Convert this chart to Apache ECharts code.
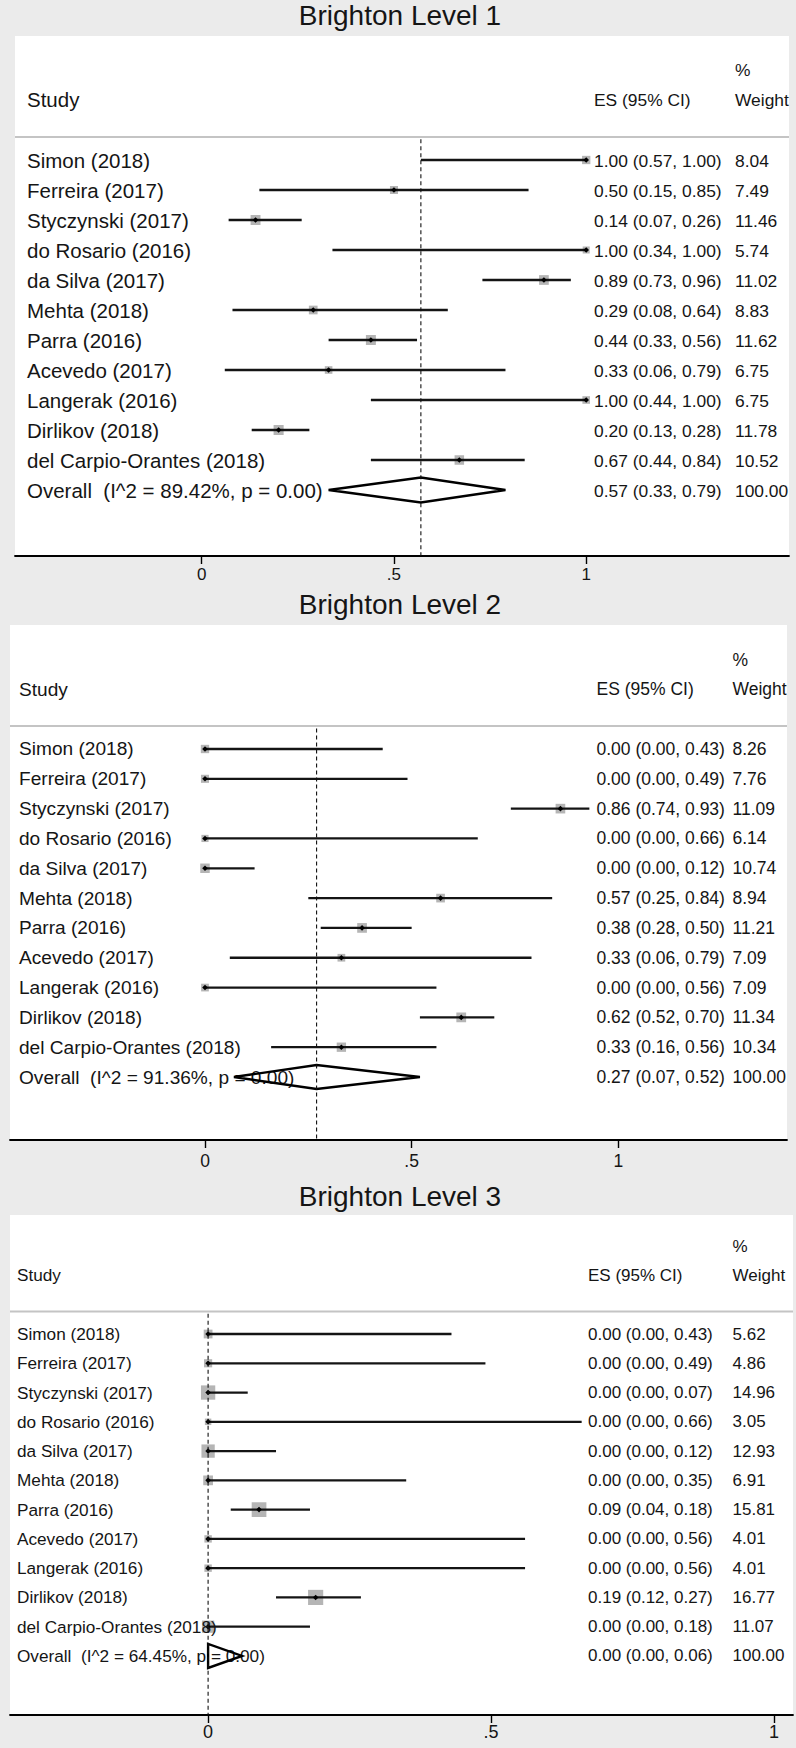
<!DOCTYPE html>
<html>
<head>
<meta charset="utf-8">
<script src="https://cdn.jsdelivr.net/npm/echarts@6.0.0/dist/echarts.min.js"></script>
<style>
html,body{margin:0;padding:0;background:#ebebeb;}
#chart{width:796px;height:1748px;}
</style>
</head>
<body>
<div id="chart"></div>
<script>
// ---------- DATA ----------
const panelTitles = ['Brighton Level 1', 'Brighton Level 2', 'Brighton Level 3'];
const headerLabels = ['Study', 'ES (95% CI)', '%', 'Weight'];
const studies = ['Simon (2018)', 'Ferreira (2017)', 'Styczynski (2017)', 'do Rosario (2016)', 'da Silva (2017)',
  'Mehta (2018)', 'Parra (2016)', 'Acevedo (2017)', 'Langerak (2016)', 'Dirlikov (2018)', 'del Carpio-Orantes (2018)'];

const es1 = [1.00, 0.50, 0.14, 1.00, 0.89, 0.29, 0.44, 0.33, 1.00, 0.20, 0.67];
const lo1 = [0.57, 0.15, 0.07, 0.34, 0.73, 0.08, 0.33, 0.06, 0.44, 0.13, 0.44];
const hi1 = [1.00, 0.85, 0.26, 1.00, 0.96, 0.64, 0.56, 0.79, 1.00, 0.28, 0.84];
const w1  = [8.04, 7.49, 11.46, 5.74, 11.02, 8.83, 11.62, 6.75, 6.75, 11.78, 10.52];

const es2 = [0.00, 0.00, 0.86, 0.00, 0.00, 0.57, 0.38, 0.33, 0.00, 0.62, 0.33];
const lo2 = [0.00, 0.00, 0.74, 0.00, 0.00, 0.25, 0.28, 0.06, 0.00, 0.52, 0.16];
const hi2 = [0.43, 0.49, 0.93, 0.66, 0.12, 0.84, 0.50, 0.79, 0.56, 0.70, 0.56];
const w2  = [8.26, 7.76, 11.09, 6.14, 10.74, 8.94, 11.21, 7.09, 7.09, 11.34, 10.34];

const es3 = [0.00, 0.00, 0.00, 0.00, 0.00, 0.00, 0.09, 0.00, 0.00, 0.19, 0.00];
const lo3 = [0.00, 0.00, 0.00, 0.00, 0.00, 0.00, 0.04, 0.00, 0.00, 0.12, 0.00];
const hi3 = [0.43, 0.49, 0.07, 0.66, 0.12, 0.35, 0.18, 0.56, 0.56, 0.27, 0.18];
const w3  = [5.62, 4.86, 14.96, 3.05, 12.93, 6.91, 15.81, 4.01, 4.01, 16.77, 11.07];

const overallEs = [0.57, 0.27, 0.00];
const overallLo = [0.33, 0.07, 0.00];
const overallHi = [0.79, 0.52, 0.06];
const overallW  = [100.00, 100.00, 100.00];
const overallI2 = [89.42, 91.36, 64.45];
const overallP  = [0.00, 0.00, 0.00];

const tickValues = [0, 0.5, 1];
const tickLabels = ['0', '.5', '1'];

// ---------- LAYOUT (pixels / styles only) ----------
const FONT = "'Liberation Sans', Arial, Helvetica, sans-serif";
const TXT = '#151515';
const layouts = [
  {grid:{left:15, top:36, width:774, height:520}, xMin:-0.4856, xMax:1.5274, yMin:-4.133, yMax:13.2,
   titleTop:1, studyX:27, esX:594, wX:735, studyFont:20.5, colFont:17.4, tickFont:17, k:2.93, dh:12.5, ty:0.8, lblMargin:10},
  {grid:{left:10, top:625, width:777, height:515}, xMin:-0.4718, xMax:1.4082, yMin:-4.158, yMax:13.112,
   titleTop:590, studyX:19, esX:596.5, wX:732.5, studyFont:19.1, colFont:17.5, tickFont:17.5, k:2.9, dh:12, ty:0, lblMargin:12},
  {grid:{left:10, top:1215, width:783, height:500}, xMin:-0.350, xMax:1.0334, yMin:-4.066, yMax:13.017,
   titleTop:1182, studyX:17, esX:588, wX:732.5, studyFont:17.2, colFont:17, tickFont:18, k:3.7, dh:12, ty:0, lblMargin:8}
];
const HEADER_LINE_ROW = -0.77;
const PCT_ROW = -3, HEAD_ROW = -2;

const panelData = [
  {es:es1, lo:lo1, hi:hi1, w:w1},
  {es:es2, lo:lo2, hi:hi2, w:w2},
  {es:es3, lo:lo3, hi:hi3, w:w3}
];

const f2 = v => v.toFixed(2);

function txt(text, x, y, size, align) {
  return {type:'text', style:{text:text, x:x, y:y, fill:TXT, fontSize:size, fontFamily:FONT,
    align:align || 'left', verticalAlign:'middle'}};
}

const option = {
  animation:false,
  backgroundColor:'#ebebeb',
  title: panelTitles.map((t, p) => ({
    text:t, left:400, top:layouts[p].titleTop, textAlign:'center', padding:0,
    textStyle:{fontSize:28, fontWeight:'normal', color:TXT, fontFamily:FONT}
  })),
  grid: layouts.map(L => Object.assign({show:true, backgroundColor:'#ffffff', borderWidth:0, containLabel:false}, L.grid)),
  xAxis: layouts.map((L, p) => ({
    type:'value', gridIndex:p, min:L.xMin, max:L.xMax,
    splitLine:{show:false},
    axisLine:{show:true, onZero:false, lineStyle:{color:'#000', width:1.8}},
    axisTick:{show:true, customValues:tickValues, length:8, inside:false, lineStyle:{color:'#000', width:1.4}},
    axisLabel:{show:true, customValues:tickValues, margin:L.lblMargin, color:TXT, fontSize:L.tickFont, fontFamily:FONT,
      formatter: v => { const i = tickValues.findIndex(t => Math.abs(t - v) < 1e-9); return i >= 0 ? tickLabels[i] : ''; }}
  })),
  yAxis: layouts.map((L, p) => ({
    type:'value', gridIndex:p, min:L.yMin, max:L.yMax, inverse:true, show:false, splitLine:{show:false}
  })),
  series: []
};

layouts.forEach((L, p) => {
  const D = panelData[p];
  // header
  option.series.push({
    type:'custom', xAxisIndex:p, yAxisIndex:p, silent:true,
    data:[[HEAD_ROW]],
    renderItem:(params, api) => {
      const yP = api.coord([0, PCT_ROW])[1];
      const yH = api.coord([0, HEAD_ROW])[1];
      const l1 = api.coord([L.xMin, HEADER_LINE_ROW]);
      const l2 = api.coord([L.xMax, HEADER_LINE_ROW]);
      return {type:'group', children:[
        txt(headerLabels[2], L.wX, yP, L.colFont),
        txt(headerLabels[0], L.studyX, yH, L.studyFont),
        txt(headerLabels[1], L.esX, yH, L.colFont),
        txt(headerLabels[3], L.wX, yH, L.colFont),
        {type:'line', shape:{x1:l1[0], y1:l1[1], x2:l2[0], y2:l2[1]}, style:{stroke:'#c4c4c4', lineWidth:2}}
      ]};
    }
  });
  // studies
  option.series.push({
    type:'custom', xAxisIndex:p, yAxisIndex:p, silent:true,
    data: studies.map((s, i) => [i, D.es[i], D.lo[i], D.hi[i], D.w[i]]),
    renderItem:(params, api) => {
      const i = params.dataIndex;
      const row = api.value(0), es = api.value(1), lo = api.value(2), hi = api.value(3), w = api.value(4);
      const pE = api.coord([es, row]), pL = api.coord([lo, row]), pH = api.coord([hi, row]);
      const s = L.k * Math.sqrt(w);
      const m = 2.8;
      const ty = pE[1] + L.ty;
      return {type:'group', children:[
        {type:'rect', shape:{x:pE[0]-s/2, y:pE[1]-s/2, width:s, height:s}, style:{fill:'#b5b5b5'}},
        {type:'line', shape:{x1:pL[0], y1:pL[1], x2:pH[0], y2:pH[1]}, style:{stroke:'#141414', lineWidth:2.3}},
        {type:'polygon', shape:{points:[[pE[0]-m, pE[1]], [pE[0], pE[1]-m], [pE[0]+m, pE[1]], [pE[0], pE[1]+m]]}, style:{fill:'#000'}},
        txt(studies[i], L.studyX, ty, L.studyFont),
        txt(f2(es) + ' (' + f2(lo) + ', ' + f2(hi) + ')', L.esX, ty, L.colFont),
        txt(f2(w), L.wX, ty, L.colFont)
      ]};
    }
  });
  // overall
  option.series.push({
    type:'custom', xAxisIndex:p, yAxisIndex:p, silent:true,
    data:[[studies.length, overallEs[p], overallLo[p], overallHi[p], overallW[p], overallI2[p], overallP[p]]],
    renderItem:(params, api) => {
      const row = api.value(0), es = api.value(1), lo = api.value(2), hi = api.value(3), w = api.value(4);
      const i2 = api.value(5), pv = api.value(6);
      const pE = api.coord([es, row]), pL = api.coord([lo, row]), pH = api.coord([hi, row]);
      const ty = pE[1] + L.ty;
      return {type:'group', children:[
        txt('Overall\u00a0 (I^2 = ' + f2(i2) + '%, p = ' + f2(pv) + ')', L.studyX, ty, L.studyFont),
        txt(f2(es) + ' (' + f2(lo) + ', ' + f2(hi) + ')', L.esX, ty, L.colFont),
        txt(f2(w), L.wX, ty, L.colFont),
        {type:'polygon', shape:{points:[[pL[0], pL[1]], [pE[0], pE[1]-L.dh], [pH[0], pH[1]], [pE[0], pE[1]+L.dh]]},
         style:{fill:'none', stroke:'#000', lineWidth:2.4, lineJoin:'miter'}}
      ]};
    }
  });
  // dashed overall line
  option.series.push({
    type:'custom', xAxisIndex:p, yAxisIndex:p, silent:true, z:5,
    data:[[overallEs[p]]],
    renderItem:(params, api) => {
      const a = api.coord([api.value(0), HEADER_LINE_ROW + 0.08]);
      const b = api.coord([api.value(0), L.yMax]);
      return {type:'line', shape:{x1:a[0], y1:a[1], x2:b[0], y2:b[1]},
        style:{stroke:'#111', lineWidth:1.1, lineDash:[4,3]}};
    }
  });
});

const chart = echarts.init(document.getElementById('chart'), null, {renderer:'svg', width:796, height:1748});
chart.setOption(option);
</script>
</body>
</html>
